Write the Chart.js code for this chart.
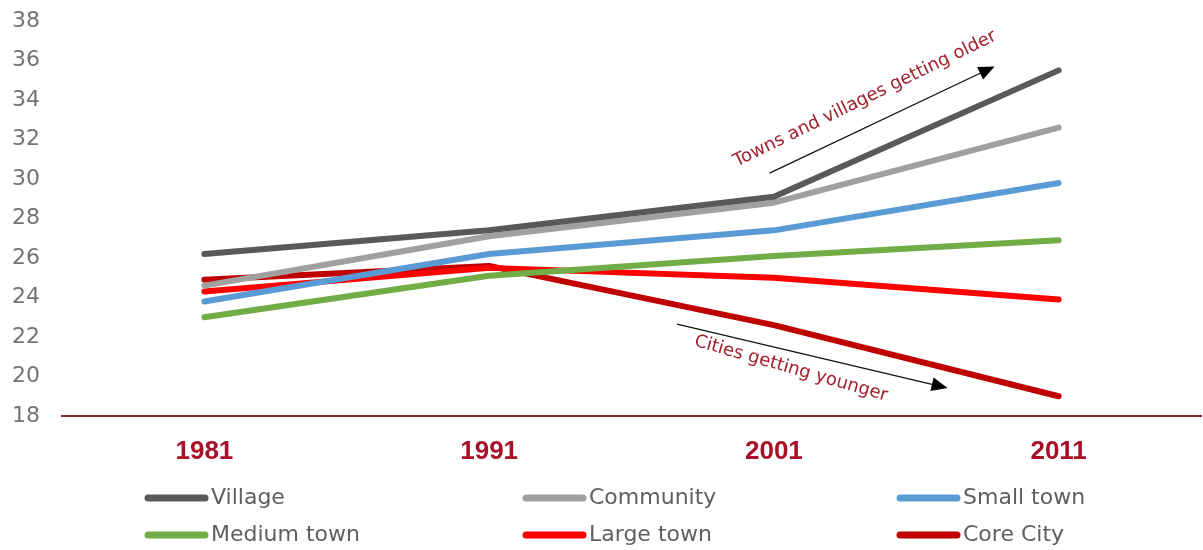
<!DOCTYPE html>
<html>
<head>
<meta charset="utf-8">
<script src="https://cdn.jsdelivr.net/npm/chart.js@4/dist/chart.umd.min.js"></script>
<style>
  html, body { margin: 0; padding: 0; background: #ffffff; }
  #wrap { width: 1203px; height: 550px; position: relative; }
</style>
</head>
<body>
<div id="wrap"><canvas id="c" width="1203" height="550"></canvas></div>
<script>
// ---- data ----
const years = ['1981', '1991', '2001', '2011'];
const seriesNames = ['Village', 'Community', 'Small town', 'Medium town', 'Large town', 'Core City'];
const village    = [26.2, 27.4, 29.1, 35.5];
const community  = [24.6, 27.1, 28.8, 32.6];
const smallTown  = [23.8, 26.2, 27.4, 29.8];
const mediumTown = [23.0, 25.1, 26.1, 26.9];
const largeTown  = [24.3, 25.5, 25.0, 23.9];
const coreCity   = [24.9, 25.6, 22.6, 19.0];
const yTicks = [18, 20, 22, 24, 26, 28, 30, 32, 34, 36, 38];
const seriesColors = ['#595959', '#a0a0a0', '#5b9bd5', '#70ad47', '#ff0000', '#c00000'];

// annotations (positions expressed in category-index / value units)
const annoTexts = ['Towns and villages getting older', 'Cities getting younger'];
const annoTextAt = [[2.32, 34.05, -26], [2.06, 20.4, 16]];
const annoArrows = [[1.985, 30.3, 2.775, 35.7], [1.66, 22.65, 2.61, 19.42]];

const allSeries = [village, community, smallTown, mediumTown, largeTown, coreCity];

function xAt(chart, v) {
  const xs = chart.scales.x;
  const i0 = Math.floor(v);
  const p0 = xs.getPixelForValue(i0);
  const p1 = xs.getPixelForValue(i0 + 1);
  return p0 + (p1 - p0) * (v - i0);
}

const annoPlugin = {
  id: 'anno',
  afterDatasetsDraw(chart) {
    const ctx = chart.ctx;
    const ys = chart.scales.y;
    ctx.save();
    annoArrows.forEach(a => {
      const x0 = xAt(chart, a[0]), y0 = ys.getPixelForValue(a[1]);
      const x1 = xAt(chart, a[2]), y1 = ys.getPixelForValue(a[3]);
      const ang = Math.atan2(y1 - y0, x1 - x0);
      const hl = 16, hw = 7;
      const bx = x1 - hl * Math.cos(ang), by = y1 - hl * Math.sin(ang);
      ctx.strokeStyle = '#111';
      ctx.lineWidth = 1.3;
      ctx.beginPath();
      ctx.moveTo(x0, y0);
      ctx.lineTo(bx, by);
      ctx.stroke();
      ctx.fillStyle = '#000';
      ctx.beginPath();
      ctx.moveTo(x1, y1);
      ctx.lineTo(bx + hw * Math.sin(ang), by - hw * Math.cos(ang));
      ctx.lineTo(bx - hw * Math.sin(ang), by + hw * Math.cos(ang));
      ctx.closePath();
      ctx.fill();
    });
    ctx.fillStyle = '#a3202c';
    ctx.font = '18px "DejaVu Sans", sans-serif';
    ctx.textAlign = 'center';
    ctx.textBaseline = 'middle';
    annoTexts.forEach((t, k) => {
      const p = annoTextAt[k];
      ctx.save();
      ctx.translate(xAt(chart, p[0]), ys.getPixelForValue(p[1]));
      ctx.rotate(p[2] * Math.PI / 180);
      ctx.fillText(t, 0, 0);
      ctx.restore();
    });
    ctx.restore();
  }
};

const legendCols = [145, 523, 897];
const legendRows = [498, 535];
const legendPlugin = {
  id: 'gridLegend',
  afterDraw(chart) {
    const ctx = chart.ctx;
    ctx.save();
    ctx.font = '22px "DejaVu Sans", sans-serif';
    ctx.textAlign = 'left';
    ctx.textBaseline = 'middle';
    chart.data.datasets.forEach((ds, i) => {
      const x = legendCols[i % 3];
      const y = legendRows[Math.floor(i / 3)];
      ctx.strokeStyle = ds.borderColor;
      ctx.lineWidth = 7;
      ctx.lineCap = 'round';
      ctx.beginPath();
      ctx.moveTo(x + 3, y);
      ctx.lineTo(x + 60, y);
      ctx.stroke();
      ctx.fillStyle = '#5f5f5f';
      ctx.fillText(ds.label, x + 66, y);
    });
    ctx.restore();
  }
};

new Chart(document.getElementById('c'), {
  type: 'line',
  data: {
    labels: years,
    datasets: seriesNames.map((n, i) => ({
      label: n,
      data: allSeries[i],
      borderColor: seriesColors[i],
      backgroundColor: seriesColors[i],
      borderWidth: 6,
      borderCapStyle: 'round',
      borderJoinStyle: 'round',
      pointRadius: 0,
      pointHoverRadius: 0,
      tension: 0,
      fill: false
    }))
  },
  options: {
    responsive: false,
    animation: false,
    layout: { padding: { top: 21, right: 2, left: 0, bottom: 0 } },
    plugins: {
      legend: { display: false },
      tooltip: { enabled: false }
    },
    scales: {
      x: {
        offset: true,
        grid: { display: false, drawTicks: false },
        border: { display: true, color: '#8b2525', width: 2 },
        ticks: {
          padding: 20,
          color: '#a8102a',
          font: { family: '"Liberation Sans", Arial, sans-serif', size: 26, weight: 'bold' }
        },
        afterFit(s) { s.height = 134; s.paddingLeft = 0; s.paddingRight = 0; }
      },
      y: {
        min: 18,
        max: 38,
        afterBuildTicks(s) { s.ticks = yTicks.map(v => ({ value: v })); },
        grid: { display: false, drawTicks: false },
        border: { display: false },
        ticks: {
          padding: 22,
          color: '#737373',
          font: { family: '"DejaVu Sans", sans-serif', size: 22 }
        },
        afterFit(s) { s.width = 62; s.paddingTop = 0; s.paddingBottom = 0; }
      }
    }
  },
  plugins: [annoPlugin, legendPlugin]
});
</script>
</body>
</html>
